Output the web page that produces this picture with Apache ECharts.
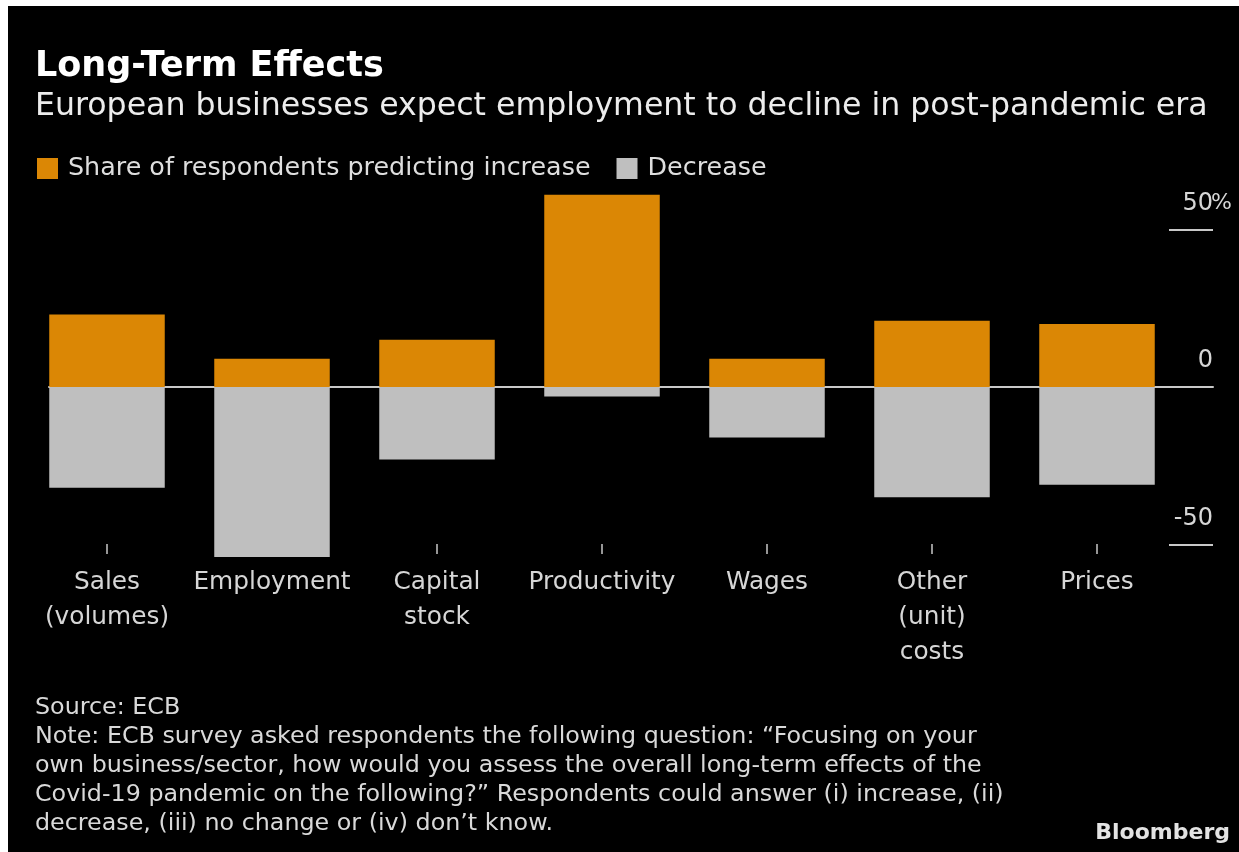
<!DOCTYPE html>
<html>
<head>
<meta charset="utf-8">
<script src="https://cdn.jsdelivr.net/npm/echarts@6/dist/echarts.min.js"></script>
<style>
  html, body { margin: 0; padding: 0; background: #fff; width: 1239px; height: 852px; overflow: hidden; }
  #chart { position: absolute; left: 8px; top: 6px; width: 1231px; height: 846px; background: #000; }
</style>
</head>
<body>
<div id="chart"></div>
<script>
// Share of respondents (%) expecting long-term increase / decrease
const categories = ['Sales\n(volumes)', 'Employment', 'Capital\nstock', 'Productivity', 'Wages', 'Other\n(unit)\ncosts', 'Prices'];
const increase = [23, 9, 15, 61, 9, 21, 20];
const decrease = [-32, -54, -23, -3, -16, -35, -31];
const yTicks = [-50, 0, 50];

const FONT = '"DejaVu Sans", sans-serif';
const ORANGE = '#db8705';
const GREY = '#bfbfbf';
const LINE = '#c8c8c8';
const LABEL = '#d6d6d6';

const chart = echarts.init(document.getElementById('chart'), null, { renderer: 'canvas' });

const option = {
  backgroundColor: '#000',
  animation: false,
  textStyle: { fontFamily: FONT },
  title: [
    {
      text: 'Long-Term Effects',
      left: 22, top: 38,
      textStyle: { color: '#fff', fontSize: 35, fontWeight: 'bold', fontFamily: FONT }
    },
    {
      text: 'European businesses expect employment to decline in post-pandemic era',
      left: 22, top: 80,
      textStyle: { color: '#ececec', fontSize: 31.6, fontWeight: 'normal', fontFamily: FONT }
    },
    {
      text: 'Source: ECB\nNote: ECB survey asked respondents the following question: \u201cFocusing on your\nown business/sector, how would you assess the overall long-term effects of the\nCovid-19 pandemic on the following?\u201d Respondents could answer (i) increase, (ii)\ndecrease, (iii) no change or (iv) don\u2019t know.',
      left: 27, top: 687,
      padding: 0,
      textStyle: { color: '#d9d9d9', fontSize: 23.8, fontWeight: 'normal', lineHeight: 29, fontFamily: FONT }
    },
    {
      text: 'Bloomberg',
      right: 9, top: 816,
      padding: 0,
      textStyle: { color: '#e3e3e3', fontSize: 22, fontWeight: 'bold', fontFamily: FONT }
    }
  ],
  legend: {
    left: 24, top: 145,
    itemWidth: 21, itemHeight: 21, itemGap: 26,
    icon: 'rect',
    textStyle: { color: '#dedede', fontSize: 25.4, fontFamily: FONT, padding: [0, 0, 0, 5] },
    data: ['Share of respondents predicting increase', 'Decrease']
  },
  grid: [
    { left: 16.5, right: 59.5, top: 160.5, bottom: 276 },   // bars
    { left: 41, right: 26, top: 160.5, bottom: 276 },       // zero baseline
    { left: 1161, right: 26, top: 223.5, bottom: 307.5 }    // value scale
  ],
  xAxis: [
    {
      gridIndex: 0, type: 'category', data: categories,
      offset: -32,
      axisLine: { show: false, onZero: false },
      axisTick: { show: true, alignWithLabel: true, length: 10, lineStyle: { color: LINE, width: 1.5 } },
      axisLabel: { interval: 0, color: LABEL, fontSize: 24.8, lineHeight: 35, margin: 21, fontFamily: FONT }
    },
    {
      gridIndex: 1, type: 'category', data: categories,
      axisLine: { show: true, onZero: true, lineStyle: { color: LINE, width: 2 } },
      axisTick: { show: false }, axisLabel: { show: false }
    },
    {
      gridIndex: 2, type: 'category', data: [''],
      axisLine: { show: false }, axisTick: { show: false }, axisLabel: { show: false }
    }
  ],
  yAxis: [
    { gridIndex: 0, type: 'value', min: -60, max: 70, show: false },
    { gridIndex: 1, type: 'value', min: -60, max: 70, show: false },
    {
      gridIndex: 2, type: 'value', position: 'right',
      min: yTicks[0], max: yTicks[yTicks.length - 1], interval: 50,
      axisLine: { show: false }, axisTick: { show: false },
      splitLine: { show: true, lineStyle: { color: LINE, width: 2 } },
      axisLabel: {
        inside: true, margin: -17,
        verticalAlign: 'bottom',
        padding: [0, 0, 14, 0],
        color: LABEL, fontSize: 24, fontFamily: FONT,
        // the per-cent sign hangs past the right end of the scale lines
        formatter: v => v === 50 ? '{n|50}{p|%}' : '{n|' + v + '}{p| }',
        rich: {
          n: { color: LABEL, fontSize: 24, fontFamily: FONT },
          p: { color: LABEL, fontSize: 22, fontFamily: FONT, width: 17, align: 'left' }
        }
      }
    }
  ],
  series: [
    {
      name: 'Share of respondents predicting increase', type: 'bar',
      xAxisIndex: 0, yAxisIndex: 0,
      data: increase, barWidth: '70%', barGap: '-100%',
      itemStyle: { color: ORANGE }
    },
    {
      name: 'Decrease', type: 'bar',
      xAxisIndex: 0, yAxisIndex: 0,
      data: decrease, barWidth: '70%', barGap: '-100%',
      itemStyle: { color: GREY }
    }
  ]
};

chart.setOption(option);
</script>
</body>
</html>
